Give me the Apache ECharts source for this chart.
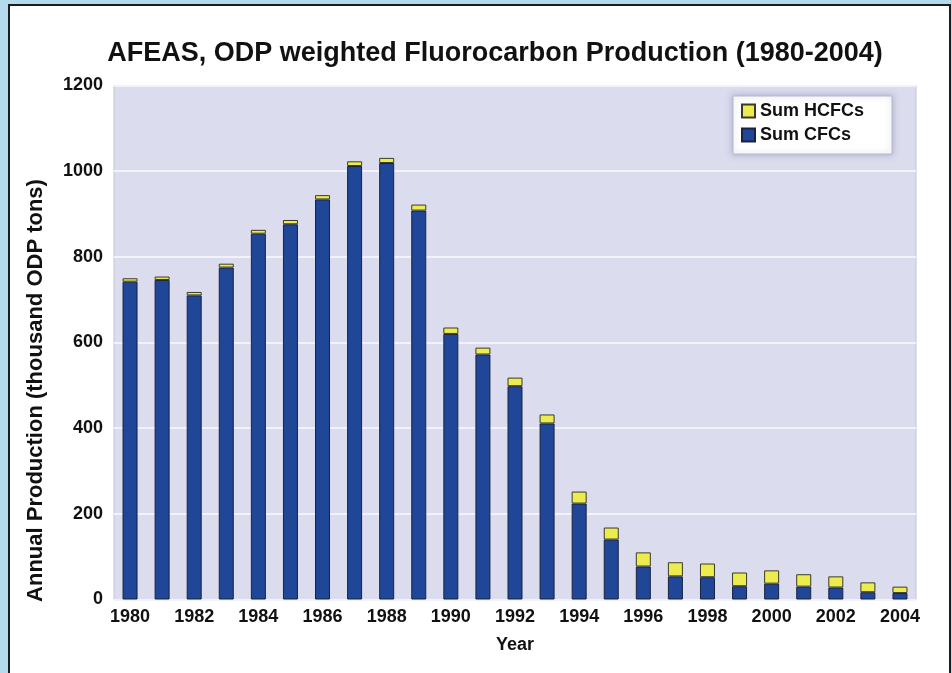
<!DOCTYPE html>
<html>
<head>
<meta charset="utf-8">
<title>AFEAS ODP weighted Fluorocarbon Production</title>
<script src="https://cdn.jsdelivr.net/npm/echarts@6/dist/echarts.min.js"></script>
<style>
  html, body {
    margin: 0;
    padding: 0;
    background: #b4daee;
    overflow: hidden;
  }
  .frame {
    position: absolute;
    left: 8px;
    top: 4px;
    width: 939px;
    height: 720px;
    border: 2px solid #1c1c1c;
    background: #ffffff;
  }
  #chart {
    position: absolute;
    left: 0;
    top: 0;
    width: 952px;
    height: 673px;
  }
</style>
</head>
<body>
<div class="frame"></div>
<div id="chart"></div>
<script>
// 数据
const years = ['1980', '1981', '1982', '1983', '1984', '1985', '1986', '1987', '1988', '1989',
  '1990', '1991', '1992', '1993', '1994', '1995', '1996', '1997', '1998', '1999',
  '2000', '2001', '2002', '2003', '2004']
const cfcs = [742, 746, 710, 775, 854, 876, 934, 1012, 1019, 908,
  620, 572, 498, 411, 224, 140, 77, 54, 52, 31,
  37, 30, 28, 17, 15]
const hcfcs = [8, 8, 8, 9, 9, 10, 10, 11, 12, 14,
  15, 16, 20, 21, 28, 28, 33, 33, 32, 32,
  31, 29, 26, 23, 15]
const yTicks = [0, 200, 400, 600, 800, 1000, 1200]

const font = '"Liberation Sans", Arial, sans-serif'

const chart = echarts.init(document.getElementById('chart'))
chart.setOption({
  animation: false,
  title: {
    text: 'AFEAS, ODP weighted Fluorocarbon Production (1980-2004)',
    left: 490,
    top: 35,
    textAlign: 'center',
    textStyle: {
      fontFamily: font,
      fontSize: 27,
      fontWeight: 'bold',
      color: '#111'
    }
  },
  legend: {
    data: ['Sum HCFCs', 'Sum CFCs'],
    orient: 'vertical',
    left: 733,
    top: 96,
    icon: 'rect',
    itemWidth: 13,
    itemHeight: 13,
    itemGap: 6,
    padding: [6, 28, 10, 8],
    backgroundColor: '#ffffff',
    borderColor: '#b8b8cc',
    borderWidth: 1,
    shadowColor: 'rgba(120,120,160,0.5)',
    shadowBlur: 6,
    textStyle: {
      fontFamily: font,
      fontSize: 18,
      fontWeight: 'bold',
      color: '#111'
    }
  },
  grid: {
    left: 114,
    right: 36,
    top: 85.5,
    bottom: 73.5,
    show: true,
    backgroundColor: '#dcdcef',
    borderColor: '#c4c4d8',
    borderWidth: 1
  },
  xAxis: {
    type: 'category',
    data: years,
    name: 'Year',
    nameLocation: 'middle',
    nameGap: 37,
    nameTextStyle: {
      fontFamily: font,
      fontSize: 18,
      fontWeight: 'bold',
      color: '#111'
    },
    axisLine: { show: false },
    axisTick: { show: false },
    axisLabel: {
      interval: 1,
      margin: 9,
      fontFamily: font,
      fontSize: 18,
      fontWeight: 'bold',
      color: '#111'
    }
  },
  yAxis: {
    type: 'value',
    min: yTicks[0],
    max: yTicks[yTicks.length - 1],
    interval: 200,
    name: 'Annual Production (thousand ODP tons)',
    nameLocation: 'middle',
    nameGap: 67,
    nameTextStyle: {
      fontFamily: font,
      fontSize: 22,
      fontWeight: 'bold',
      color: '#111',
      padding: [0, 96, 0, 0]
    },
    axisLine: { show: false },
    axisTick: { show: false },
    axisLabel: {
      margin: 11,
      fontFamily: font,
      fontSize: 18,
      fontWeight: 'bold',
      color: '#111',
      formatter: (v) => String(v)
    },
    splitLine: {
      lineStyle: { color: '#f2f2fa', width: 2 }
    }
  },
  series: [
    {
      name: 'Sum CFCs',
      type: 'bar',
      stack: 'total',
      barWidth: 15,
      data: cfcs,
      itemStyle: {
        color: '#1f4697',
        borderColor: '#1b2240',
        borderWidth: 1
      }
    },
    {
      name: 'Sum HCFCs',
      type: 'bar',
      stack: 'total',
      barWidth: 15,
      data: hcfcs,
      itemStyle: {
        color: '#ecec4e',
        borderColor: '#3a3a2a',
        borderWidth: 1
      }
    }
  ]
})
</script>
</body>
</html>
